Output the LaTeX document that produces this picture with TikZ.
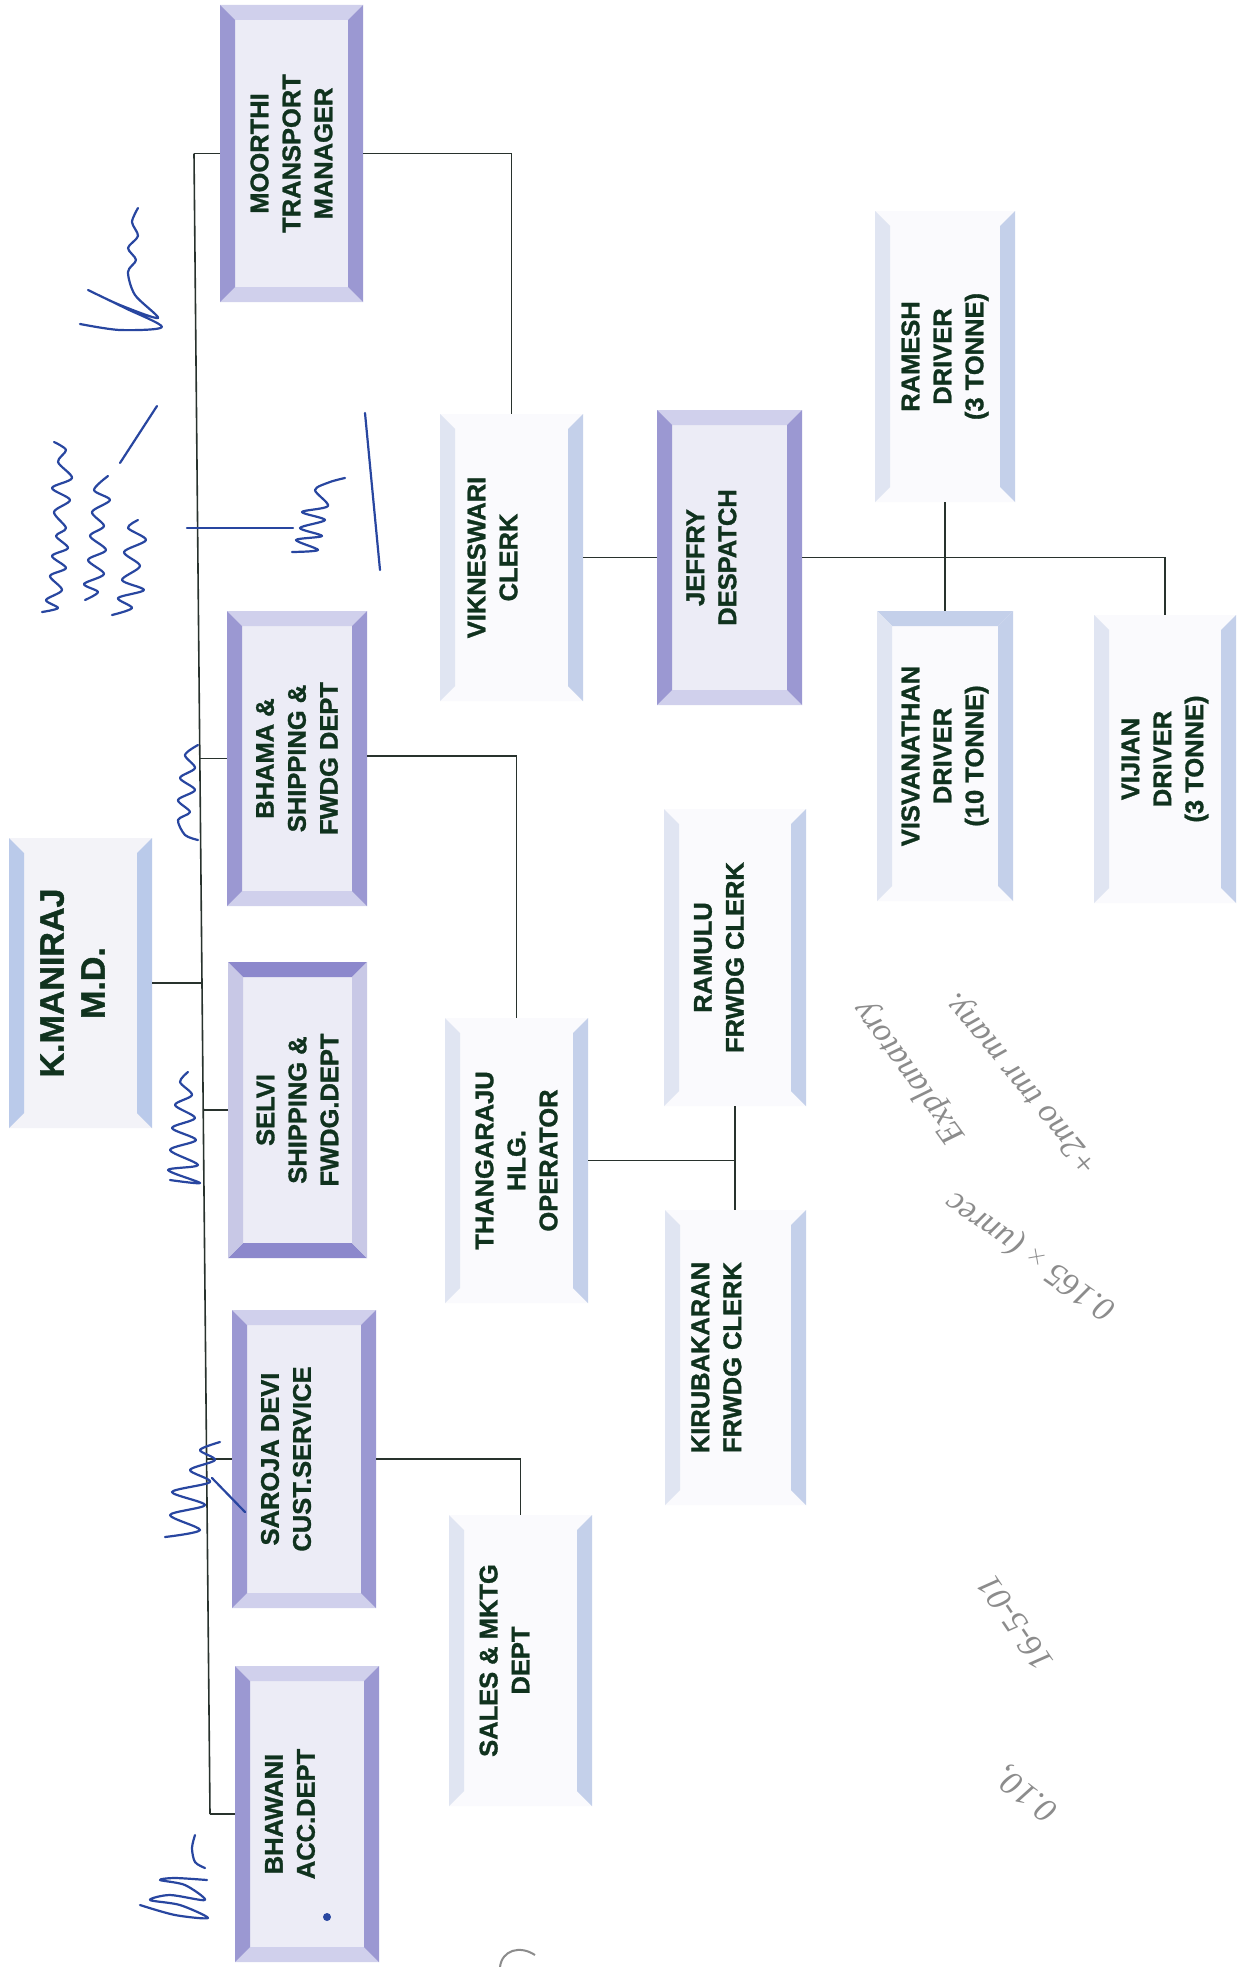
\documentclass[tikz,border=0pt]{standalone}
\usepackage{fontspec}
\setmainfont{Liberation Sans}
\newfontfamily\boxfont{Liberation Sans Bold}[FakeBold=1.2]
\newfontfamily\handfont{Liberation Serif}
\definecolor{dbar}{RGB}{155,152,210}
\definecolor{lbev}{RGB}{208,208,236}
\definecolor{inner}{RGB}{236,236,246}
\definecolor{fadein}{RGB}{250,250,253}
\definecolor{fleft}{RGB}{224,229,242}
\definecolor{fbar}{RGB}{196,208,234}
\definecolor{lbblue}{RGB}{186,202,234}
\definecolor{maniin}{RGB}{243,243,248}
\definecolor{selside}{RGB}{200,200,230}
\definecolor{seltop}{RGB}{140,136,204}
\definecolor{txtc}{RGB}{16,50,30}
\definecolor{linec}{RGB}{40,50,45}
\definecolor{ink}{RGB}{40,70,160}
\definecolor{pencil}{RGB}{140,140,140}
\def\bevw{15}
\newcommand\orgbox[5]{%
  \fill[cI] (#2,#3) rectangle (#4,#5);
  \fill[cT] (#2,#3) -- (#4,#3) -- ({#4-\bevw},{#3+\bevw}) -- ({#2+\bevw},{#3+\bevw}) -- cycle;
  \fill[cB] (#2,#5) -- (#4,#5) -- ({#4-\bevw},{#5-\bevw}) -- ({#2+\bevw},{#5-\bevw}) -- cycle;
  \fill[cL] (#2,#3) -- ({#2+\bevw},{#3+\bevw}) -- ({#2+\bevw},{#5-\bevw}) -- (#2,#5) -- cycle;
  \fill[cR] (#4,#3) -- ({#4-\bevw},{#3+\bevw}) -- ({#4-\bevw},{#5-\bevw}) -- (#4,#5) -- cycle;
  \node[inner sep=0pt, minimum width={(#4-#2)*1pt}, minimum height={(#5-#3)*1pt}] (#1) at ({(#2+#4)/2},{(#3+#5)/2}) {};
}
\newcommand\darkcols{\colorlet{cI}{inner}\colorlet{cL}{dbar}\colorlet{cR}{dbar}\colorlet{cT}{lbev}\colorlet{cB}{lbev}}
\newcommand\fadecols{\colorlet{cI}{fadein}\colorlet{cL}{fleft}\colorlet{cR}{fbar}\colorlet{cT}{fadein}\colorlet{cB}{fadein}}
\newcommand\manicols{\colorlet{cI}{maniin}\colorlet{cL}{lbblue}\colorlet{cR}{lbblue}\colorlet{cT}{maniin}\colorlet{cB}{maniin}}
\newcommand\selvicols{\colorlet{cI}{inner}\colorlet{cL}{selside}\colorlet{cR}{selside}\colorlet{cT}{seltop}\colorlet{cB}{seltop}}
\tikzset{
  lbl/.style={rotate=90, align=center, text=txtc, inner sep=0pt, font=\boxfont\fontsize{25.5}{32}\selectfont},
  conn/.style={draw=linec, line width=1.6pt},
  sig/.style={draw=ink, line width=2.2pt, line cap=round, line join=round},
  pen/.style={text=pencil, inner sep=0pt, font=\handfont\itshape\fontsize{34}{36}\selectfont},
}
\begin{document}
\begin{tikzpicture}[x=1pt,y=-1pt]
\fill[white] (0,0) rectangle (1248,1967);
\useasboundingbox (0,0) rectangle (1248,1967);

% boxes
\manicols
\orgbox{mani}{9}{838}{152}{1128}
\darkcols
\orgbox{moorthi}{220}{5}{363}{302}
\orgbox{bhama}{227}{611}{367}{906}
\orgbox{saroja}{232}{1310}{376}{1608}
\orgbox{bhawani}{235}{1666}{379}{1962}
\orgbox{jeff}{657}{410}{802}{705}
\selvicols
\orgbox{selvi}{228}{962}{367}{1258}
\fadecols
\orgbox{vik}{440}{414}{583}{701}
\orgbox{ramesh}{875}{211}{1015}{502}
\orgbox{vijian}{1094}{615}{1236}{903}
\orgbox{thang}{445}{1018}{588}{1303}
\orgbox{ramulu}{664}{809}{806}{1106}
\orgbox{kiru}{665}{1210}{806}{1505}
\orgbox{sales}{449}{1515}{592}{1806}
\colorlet{cT}{fbar}
\orgbox{visv}{877}{611}{1013}{901}

% texts
\node[lbl, font=\boxfont\fontsize{34}{41}\selectfont] at ([xshift=-8pt]mani.center) {K.MANIRAJ\\M.D.};
\node[lbl] at (moorthi.center) {MOORTHI\\TRANSPORT\\MANAGER};
\node[lbl] at (bhama.center) {BHAMA \&\\SHIPPING \&\\FWDG DEPT};
\node[lbl] at (selvi.center) {SELVI\\SHIPPING \&\\FWDG.DEPT};
\node[lbl] at ([xshift=-18pt]saroja.center) {SAROJA DEVI\\CUST.SERVICE};
\node[lbl] at ([xshift=-17pt]bhawani.center) {BHAWANI\\ACC.DEPT};
\node[lbl] at ([xshift=-19pt]vik.center) {VIKNESWARI\\CLERK};
\node[lbl] at ([xshift=-18pt]jeff.center) {JEFFRY\\DESPATCH};
\node[lbl] at (ramesh.center) {RAMESH\\DRIVER\\(3 TONNE)};
\node[lbl] at (visv.center) {VISVANATHAN\\DRIVER\\(10 TONNE)};
\node[lbl] at (vijian.center) {VIJIAN\\DRIVER\\(3 TONNE)};
\node[lbl] at (thang.center) {THANGARAJU\\HLG.\\OPERATOR};
\node[lbl] at ([xshift=-16pt]ramulu.center) {RAMULU\\FRWDG CLERK};
\node[lbl] at ([xshift=-19pt]kiru.center) {KIRUBAKARAN\\FRWDG CLERK};
\node[lbl] at ([xshift=-16pt]sales.center) {SALES \& MKTG\\DEPT};

% bus
\coordinate (bMoo) at (194,153.5);
\coordinate (bBha) at (199.8,758.5);
\coordinate (bMan) at (202,983);
\coordinate (bSel) at (203.2,1110);
\coordinate (bSar) at (206.6,1459);
\coordinate (bBhw) at (210,1814);
\draw[conn] (bMoo) -- (bBhw);
\draw[conn] (bMoo) -- (moorthi.west);
\draw[conn] (bBha) -- (bBha -| bhama.west);
\draw[conn] (mani.east) -- (bMan);
\draw[conn] (bSel) -- (selvi.west);
\draw[conn] (bSar) -- (saroja.west);
\draw[conn] (bBhw) -- (bhawani.west);

% second level
\draw[conn] (moorthi.east) -| (vik.north);
\draw[conn] ([yshift=2.5pt]bhama.east) -| (thang.north);
\draw[conn] (saroja.east) -| (sales.north);
\draw[conn] (vik.east) -- (jeff.west);
\draw[conn] (jeff.east) -| (vijian.north);
\draw[conn] (ramesh.south) -- (visv.north);
\draw[conn] (ramulu.south) -- (ramulu.south |- kiru.north);
\draw[conn] (thang.east) -- (thang.east -| ramulu.south);

% signatures (blue ink)
\draw[sig] plot[smooth] coordinates {(80,324) (120,330) (162,327) (125,308) (88,290) (120,305) (158,318) (135,295) (128,272) (136,260) (128,248) (138,236) (132,222) (138,208)};
\draw[sig] plot[smooth] coordinates {(42,612) (58,608) (46,600) (62,590) (50,576) (66,568) (52,556) (68,548) (56,536) (66,528) (54,512) (70,500) (52,488) (72,478) (58,462) (66,450) (54,442)};
\draw[sig] (120,463) -- (157,406);
\draw[sig] plot[smooth] coordinates {(85,600) (98,592) (84,584) (104,574) (88,560) (106,550) (90,536) (104,526) (92,512) (110,500) (94,490) (108,476)};
\draw[sig] plot[smooth] coordinates {(112,615) (132,608) (118,598) (144,590) (122,580) (140,566) (124,552) (146,540) (128,528) (138,520)};
\draw[sig] (187,528) -- (293,528);
\draw[sig] plot[smooth] coordinates {(292,552) (318,550) (296,540) (322,536) (300,528) (325,520) (302,512) (328,506) (315,490) (330,482) (345,478)};
\draw[sig] (365,413) -- (380,570);
\draw[sig] plot[smooth] coordinates {(198,840) (185,835) (178,820) (190,812) (178,800) (195,790) (180,778) (195,768) (185,755) (198,745)};
\draw[sig] plot[smooth] coordinates {(170,1180) (200,1183) (168,1170) (198,1165) (170,1150) (196,1140) (172,1128) (195,1118) (175,1105) (192,1095) (180,1082) (188,1072)};
\draw[sig] plot[smooth] coordinates {(165,1537) (200,1530) (170,1515) (205,1505) (172,1492) (210,1482) (190,1470) (215,1460) (200,1450) (220,1442)};
\draw[sig] (212,1478) -- (245,1512);
\draw[sig] plot[smooth] coordinates {(140,1905) (175,1915) (208,1918) (180,1905) (150,1900) (170,1895) (205,1900) (185,1885) (160,1880) (175,1878) (207,1880)};
\draw[sig] plot[smooth] coordinates {(195,1835) (192,1848) (195,1862) (205,1868)};
\fill[ink] (327,1917) circle (4pt);

% pencil notes
\node[pen, rotate=129.5] at (1023,1083) {+2mo tmr many.};
\node[pen, rotate=145] at (1031,1255) {0.165 $\times$ (unrec};
\node[pen, rotate=126] at (910,1072) {Explanatory};
\node[pen, rotate=124] at (1015,1623) {16-5-01};
\node[pen, rotate=142] at (1027,1793) {0.10,};
\draw[draw=pencil, line width=2pt] (500,1967) .. controls (502,1950) and (520,1945) .. (535,1955);
\end{tikzpicture}
\end{document}
